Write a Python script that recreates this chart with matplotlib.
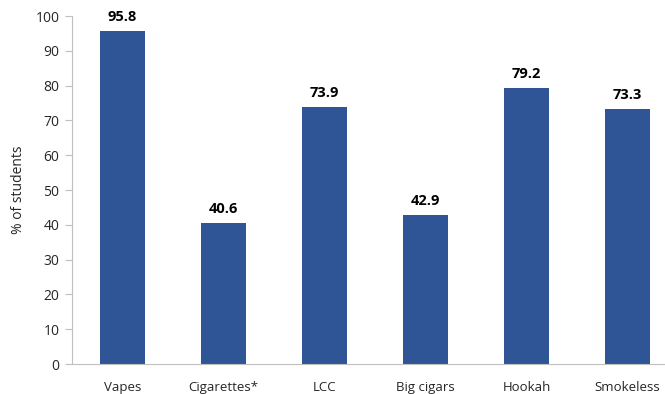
import matplotlib.pyplot as plt

categories = ["Vapes", "Cigarettes*", "LCC", "Big cigars", "Hookah", "Smokeless"]
values = [95.8, 40.6, 73.9, 42.9, 79.2, 73.3]
yticks = [0, 10, 20, 30, 40, 50, 60, 70, 80, 90, 100]

plt.rcParams["font.family"] = ["Open Sans", "DejaVu Sans"]

fig = plt.figure(figsize=(6.65, 3.94), dpi=100)
ax = fig.add_axes([72 / 665, 30 / 394, 606 / 665, 348 / 394])

x = range(len(categories))
bars = ax.bar(x, values, width=0.45, color="#2F5597")

for xi, v in zip(x, values):
    ax.annotate(f"{v:.1f}", (xi, v), xytext=(0, 5), textcoords="offset points",
                ha="center", va="bottom", fontsize=10.5, fontweight="bold", color="#000000")

ax.set_xlim(-0.5, len(categories) - 0.5)
ax.set_ylim(0, 100)
ax.set_yticks(yticks)
ax.set_xticks(list(x))
ax.set_xticklabels(categories)
ax.tick_params(axis="x", length=0, pad=12, labelsize=9.5, labelcolor="#262626")
ax.tick_params(axis="y", length=5, color="#BFBFBF", labelsize=10, labelcolor="#262626", pad=4)
ax.set_ylabel("% of students", fontsize=10, color="#262626", labelpad=7)

for side in ["top", "right"]:
    ax.spines[side].set_visible(False)
for side in ["left", "bottom"]:
    ax.spines[side].set_color("#BFBFBF")

fig.savefig("out.png", dpi=100)
